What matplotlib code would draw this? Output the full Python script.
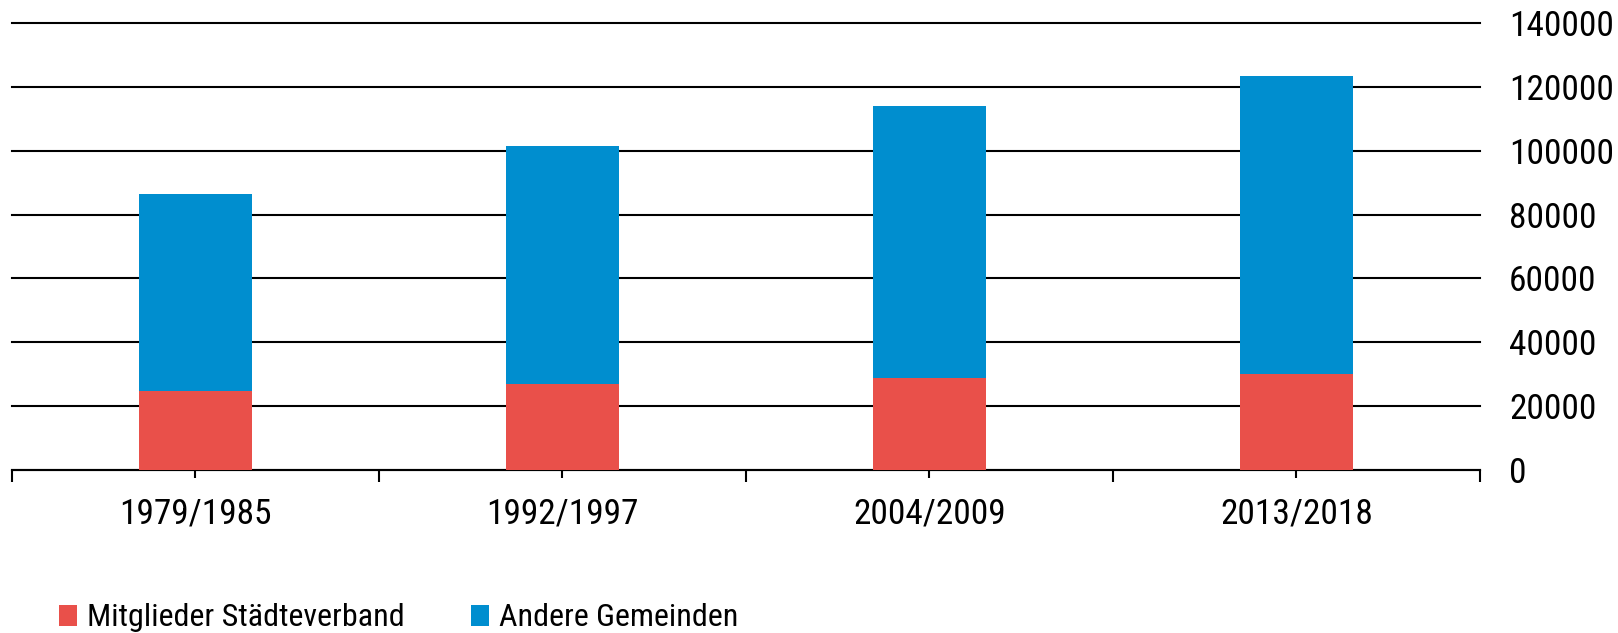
#!/usr/bin/env python3
import matplotlib
matplotlib.use("Agg")
import matplotlib.pyplot as plt
from matplotlib import font_manager
from matplotlib.patches import Patch

# pick a condensed sans if one is installed, else plain Liberation Sans
def pick_font():
    names = {f.name for f in font_manager.fontManager.ttflist}
    for fam in ["Roboto Condensed", "Liberation Sans Narrow", "Open Sans Condensed",
                "Noto Sans Condensed", "DejaVu Sans Condensed"]:
        if fam in names:
            return fam, "normal"
    for f in font_manager.fontManager.ttflist:
        if f.stretch in ("condensed", "semi-condensed") and f.style == "normal" \
                and f.weight in (400, "normal", "regular"):
            return f.name, f.stretch
    return "Liberation Sans", "normal"

FAMILY, STRETCH = pick_font()
plt.rcParams["font.family"] = [FAMILY, "DejaVu Sans"]
plt.rcParams["font.stretch"] = STRETCH
NARROW = FAMILY != "Liberation Sans"

periods    = ["1979/1985", "1992/1997", "2004/2009", "2013/2018"]
staedte    = [24800, 26900, 28750, 30100]
andere     = [61700, 74650, 85150, 93400]
series     = ["Mitglieder Städteverband", "Andere Gemeinden"]
y_ticks    = [0, 20000, 40000, 60000, 80000, 100000, 120000, 140000]

RED  = "#e9504a"
BLUE = "#008ecf"
FS   = 25.5 if NARROW else 21
LFS  = 23 if NARROW else 19

fig = plt.figure(figsize=(16.18, 6.33), dpi=100, facecolor="white")
ax = fig.add_axes([12/1618, (633-470)/633, (1480-12)/1618, (470-23)/633])

x = range(len(periods))
ax.bar(x, staedte, width=0.31, color=RED, zorder=3)
ax.bar(x, andere, bottom=staedte, width=0.31, color=BLUE, zorder=3)

ax.set_xlim(-0.5, len(periods) - 0.5)
ax.set_ylim(0, 140000)

# y axis on the right, gridlines black
ax.yaxis.tick_right()
ax.set_yticks(y_ticks)
ax.set_yticklabels([str(v) for v in y_ticks], fontsize=FS, color="black")
ax.tick_params(axis="y", length=0, pad=21)
ax.grid(axis="y", color="black", linewidth=1.5, zorder=0)
ax.set_axisbelow(True)
for gl in ax.get_ygridlines():
    gl.set_clip_on(False)

# x ticks: boundaries (major) + labelled centres (minor)
ax.set_xticks([i - 0.5 for i in range(len(periods) + 1)])
ax.set_xticklabels([])
ax.tick_params(axis="x", which="major", length=8.5, width=1.5, color="black")
ax.set_xticks(list(x), periods, minor=True)
ax.tick_params(axis="x", which="minor", length=5.5, width=1.5, color="black",
               pad=14, labelsize=FS, labelcolor="black")

for s in ["top", "left", "right"]:
    ax.spines[s].set_visible(False)
ax.spines["bottom"].set_linewidth(1.5)
ax.spines["bottom"].set_color("black")

handles = [Patch(facecolor=RED, label=series[0]), Patch(facecolor=BLUE, label=series[1])]
fig.legend(handles=handles, loc="center left", bbox_to_anchor=(59/1618, 15/633),
           ncol=2, frameon=False, fontsize=LFS, handlelength=0.57, handleheight=0.63,
           handletextpad=0.32, columnspacing=2.05, borderpad=0, borderaxespad=0)

fig.savefig("out.png", dpi=100, facecolor="white")
